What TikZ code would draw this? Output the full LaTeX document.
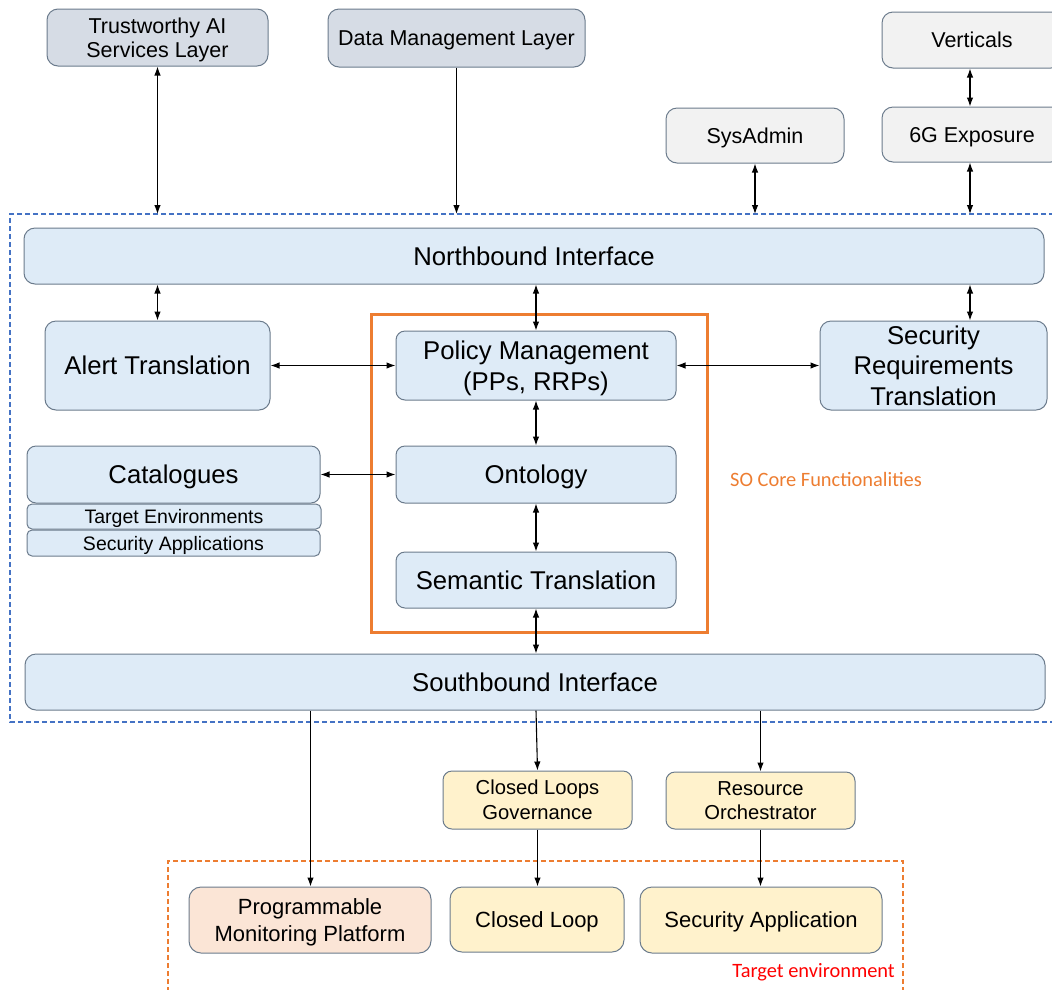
\documentclass[tikz,border=0pt]{standalone}
\usepackage{fontspec}
\setmainfont{Liberation Sans}
\newfontfamily\calib{Carlito}
\usetikzlibrary{arrows.meta}

\definecolor{boxline}{HTML}{6B7B8C}
\definecolor{lightblue}{HTML}{DEEBF7}
\definecolor{slate}{HTML}{D6DCE5}
\definecolor{paper}{HTML}{F2F2F2}
\definecolor{cream}{HTML}{FFF2CC}
\definecolor{peach}{HTML}{FBE5D6}
\definecolor{soorange}{HTML}{ED7D31}
\definecolor{dashblue}{HTML}{4472C4}

\tikzset{
  box/.style={draw=boxline, line width=1pt, rounded corners=11pt, align=center,
              inner sep=0pt, text=black},
  sunk/.style={text depth=0pt},
  bigtext/.style={font=\fontsize{25.7}{30.5}\selectfont},
  midtext/.style={font=\fontsize{21.5}{24}\selectfont},
  smalltext/.style={font=\fontsize{20.2}{24.5}\selectfont},
  basetext/.style={font=\fontsize{22}{27}\selectfont},
  rowtext/.style={font=\fontsize{19.5}{22}\selectfont},
  blue/.style={box, fill=lightblue},
  conn/.style={line width=1.1pt, draw=black},
  both/.style={conn, {Latex[length=9pt,width=6.5pt]}-{Latex[length=9pt,width=6.5pt]}},
  tohead/.style={conn, -{Latex[length=9pt,width=6.5pt]}},
}

\begin{document}
\begin{tikzpicture}[x=1pt, y=-1pt]
\useasboundingbox (0,0) rectangle (1052,989);

% outer layers above the framework
\node[box, sunk, fill=slate, midtext, minimum width=221pt, minimum height=57pt] (trust) at (157.5,37.5) {Trustworthy AI\\Services Layer};
\node[box, sunk, fill=slate, midtext, minimum width=257pt, minimum height=58pt] (datam) at (456.5,38) {Data Management Layer};
\node[box, fill=paper, midtext, minimum width=180pt, minimum height=56pt] (vert) at (972,40) {Verticals};
\node[box, sunk, fill=paper, midtext, minimum width=180pt, minimum height=55pt] (sixg) at (972,134.5) {6G Exposure};
\node[box, sunk, fill=paper, midtext, minimum width=178pt, minimum height=55pt] (sysad) at (755,135.5) {SysAdmin};

% framework boundary
\draw[dashblue, line width=1.5pt, dash pattern=on 5pt off 3pt] (1070,214) -- (10,214) -- (10,722) -- (1070,722);
\coordinate (ftop) at (0,214);

% interfaces
\node[blue, bigtext, minimum width=1020pt, minimum height=56pt] (nb) at (534,256) {Northbound Interface};
\node[blue, bigtext, minimum width=1020pt, minimum height=56pt] (sb) at (535,682) {Southbound Interface};

% translation blocks
\node[blue, sunk, bigtext, minimum width=225pt, minimum height=89pt] (alert) at (157.5,365.5) {Alert Translation};
\node[blue, bigtext, minimum width=227pt, minimum height=89pt] (secreq) at (933.5,365.5) {Security\\Requirements\\Translation};

% core functionalities
\draw[soorange, line width=3pt] (371,314) rectangle (707,632);
\node[blue, sunk, bigtext, minimum width=280pt, minimum height=69pt, rounded corners=9pt] (policy) at (536,365.5) {Policy Management\\(PPs, RRPs)};
\node[blue, sunk, bigtext, minimum width=280pt, minimum height=57pt, rounded corners=9pt] (onto) at (536,474.5) {Ontology};
\node[blue, bigtext, minimum width=280pt, minimum height=56pt, rounded corners=9pt] (sem) at (536,580) {Semantic Translation};
\node[anchor=west, text=soorange, font=\calib\fontsize{20.4}{24}\selectfont, inner sep=0pt] (solabel) at (730,479) {SO Core Functionalities};

% catalogues
\node[blue, sunk, bigtext, minimum width=293pt, minimum height=57pt, rounded corners=9pt] (cat) at (173.5,474.5) {Catalogues};
\node[blue, sunk, rowtext, minimum width=294pt, minimum height=25pt, rounded corners=5pt] (tenv) at (174,516.5) {Target Environments};
\node[blue, sunk, rowtext, minimum width=293pt, minimum height=26pt, rounded corners=5pt] (secapps) at (173.5,543) {Security Applications};

% southbound components
\node[box, fill=cream, smalltext, minimum width=189pt, minimum height=58pt, rounded corners=9pt] (clg) at (537.5,800) {Closed Loops\\Governance};
\node[box, fill=cream, smalltext, minimum width=189pt, minimum height=57pt, rounded corners=9pt] (ro) at (760.5,800.5) {Resource\\Orchestrator};

% target environment
\draw[soorange, line width=1.5pt, dash pattern=on 5pt off 3pt] (168,1000) -- (168,861) -- (903,861) -- (903,1000);
\node[box, sunk, fill=peach, basetext, minimum width=242pt, minimum height=66pt, rounded corners=12pt] (pmp) at (310,920) {Programmable\\Monitoring Platform};
\node[box, sunk, fill=cream, basetext, minimum width=174pt, minimum height=65pt, rounded corners=12pt] (cl) at (537,919.5) {Closed Loop};
\node[box, sunk, fill=cream, basetext, minimum width=242pt, minimum height=66pt, rounded corners=12pt] (sa) at (761,920) {Security Application};
\node[anchor=east, text=red, font=\calib\fontsize{20.4}{24}\selectfont, inner sep=0pt] (telabel) at (895,972) {Target environment};

% connectors into the framework
\draw[both] (trust.south) -- (trust.south |- ftop);
\draw[tohead] (datam.south) -- (datam.south |- ftop);
\draw[both] (sysad.south) -- (sysad.south |- ftop);
\draw[both] ([xshift=-2pt]sixg.south) -- ([xshift=-2pt]sixg.south |- ftop);
\draw[both] ([xshift=-2pt]vert.south) -- ([xshift=-2pt]sixg.north);

% northbound to internal blocks
\draw[both] (alert.north |- nb.south) -- (alert.north);
\draw[both] (policy.north |- nb.south) -- (policy.north);
\draw[both] ([xshift=-2pt]sixg.south |- nb.south) -- ([xshift=-2pt]sixg.south |- secreq.north);

% core links
\draw[both] (alert.east) -- (policy.west);
\draw[both] (policy.east) -- (secreq.west);
\draw[both] (cat.east) -- (onto.west);
\draw[both] (policy.south) -- (onto.north);
\draw[both] (onto.south) -- (sem.north);
\draw[both] (sem.south) -- (sem.south |- sb.north);

% southbound outputs
\draw[tohead] ([xshift=0.5pt]pmp.north |- sb.south) -- ([xshift=0.5pt]pmp.north);
\draw[tohead] (sem.south |- sb.south) -- (clg.north);
\draw[tohead] (ro.north |- sb.south) -- (ro.north);
\draw[tohead] (clg.south) -- (clg.south |- cl.north);
\draw[tohead] (ro.south) -- (ro.south |- sa.north);
\end{tikzpicture}
\end{document}
